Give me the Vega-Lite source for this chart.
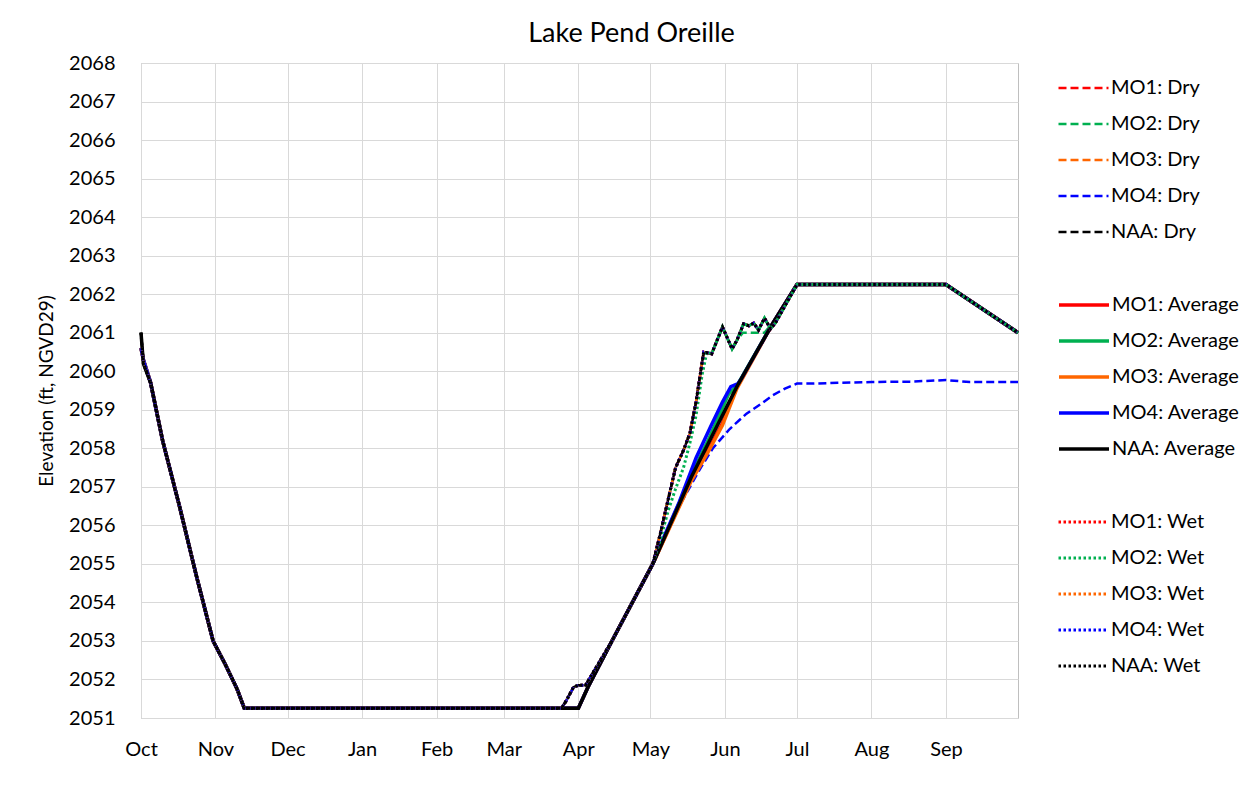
{
"$schema":"https://vega.github.io/schema/vega-lite/v6.json",
"width":877,"height":655,
"autosize":"none",
"padding":{"left":141,"top":63,"right":239,"bottom":70},
"background":"white",
"title":{"text":"Lake Pend Oreille","fontSize":27,"font":"Lato","fontWeight":"normal","color":"#000","anchor":"middle","frame":"group","dx":52,"offset":5},
"datasets":{
"dry":[
{"s":"MO1","d":0,"v":2060.6},{"s":"MO1","d":1,"v":2060.3},{"s":"MO1","d":4,"v":2059.7},{"s":"MO1","d":9,"v":2058.2},{"s":"MO1","d":16,"v":2056.5},{"s":"MO1","d":23,"v":2054.7},{"s":"MO1","d":30,"v":2053},{"s":"MO1","d":35,"v":2052.4},{"s":"MO1","d":40,"v":2051.75},{"s":"MO1","d":43,"v":2051.25},{"s":"MO1","d":175,"v":2051.25},{"s":"MO1","d":177,"v":2051.45},{"s":"MO1","d":180,"v":2051.8},{"s":"MO1","d":182,"v":2051.85},{"s":"MO1","d":185,"v":2051.85},{"s":"MO1","d":196,"v":2053},{"s":"MO1","d":213,"v":2055},{"s":"MO1","d":216,"v":2055.75},{"s":"MO1","d":219.5,"v":2056.7},{"s":"MO1","d":222.5,"v":2057.5},{"s":"MO1","d":225.8,"v":2057.95},{"s":"MO1","d":228.5,"v":2058.4},{"s":"MO1","d":231,"v":2059.2},{"s":"MO1","d":234.2,"v":2060.5},{"s":"MO1","d":237.5,"v":2060.45},{"s":"MO1","d":242,"v":2061.15},{"s":"MO1","d":246,"v":2060.58},{"s":"MO1","d":248,"v":2060.8},{"s":"MO1","d":250.8,"v":2061.23},{"s":"MO1","d":253,"v":2061.18},{"s":"MO1","d":255,"v":2061.25},{"s":"MO1","d":257,"v":2061.07},{"s":"MO1","d":259.5,"v":2061.38},{"s":"MO1","d":262,"v":2061.1},{"s":"MO1","d":264,"v":2061.25},{"s":"MO1","d":273,"v":2062.25},{"s":"MO1","d":335,"v":2062.25},{"s":"MO1","d":365,"v":2061},
{"s":"MO2","d":0,"v":2060.6},{"s":"MO2","d":1,"v":2060.3},{"s":"MO2","d":4,"v":2059.7},{"s":"MO2","d":9,"v":2058.2},{"s":"MO2","d":16,"v":2056.5},{"s":"MO2","d":23,"v":2054.7},{"s":"MO2","d":30,"v":2053},{"s":"MO2","d":35,"v":2052.4},{"s":"MO2","d":40,"v":2051.75},{"s":"MO2","d":43,"v":2051.25},{"s":"MO2","d":175,"v":2051.25},{"s":"MO2","d":177,"v":2051.45},{"s":"MO2","d":180,"v":2051.8},{"s":"MO2","d":182,"v":2051.85},{"s":"MO2","d":185,"v":2051.85},{"s":"MO2","d":196,"v":2053},{"s":"MO2","d":213,"v":2055},{"s":"MO2","d":216,"v":2055.75},{"s":"MO2","d":219.5,"v":2056.7},{"s":"MO2","d":222.5,"v":2057.5},{"s":"MO2","d":225.8,"v":2057.95},{"s":"MO2","d":228.5,"v":2058.4},{"s":"MO2","d":231,"v":2059.2},{"s":"MO2","d":234.2,"v":2060.5},{"s":"MO2","d":237.5,"v":2060.45},{"s":"MO2","d":242,"v":2061.15},{"s":"MO2","d":246,"v":2060.58},{"s":"MO2","d":248,"v":2060.8},{"s":"MO2","d":250.5,"v":2061},{"s":"MO2","d":259.5,"v":2061},{"s":"MO2","d":261.5,"v":2061.15},{"s":"MO2","d":264,"v":2061.25},{"s":"MO2","d":273,"v":2062.25},{"s":"MO2","d":335,"v":2062.25},{"s":"MO2","d":365,"v":2061},
{"s":"MO3","d":0,"v":2060.6},{"s":"MO3","d":1,"v":2060.3},{"s":"MO3","d":4,"v":2059.7},{"s":"MO3","d":9,"v":2058.2},{"s":"MO3","d":16,"v":2056.5},{"s":"MO3","d":23,"v":2054.7},{"s":"MO3","d":30,"v":2053},{"s":"MO3","d":35,"v":2052.4},{"s":"MO3","d":40,"v":2051.75},{"s":"MO3","d":43,"v":2051.25},{"s":"MO3","d":175,"v":2051.25},{"s":"MO3","d":177,"v":2051.45},{"s":"MO3","d":180,"v":2051.8},{"s":"MO3","d":182,"v":2051.85},{"s":"MO3","d":185,"v":2051.85},{"s":"MO3","d":196,"v":2053},{"s":"MO3","d":213,"v":2055},{"s":"MO3","d":216,"v":2055.75},{"s":"MO3","d":219.5,"v":2056.7},{"s":"MO3","d":222.5,"v":2057.5},{"s":"MO3","d":225.8,"v":2057.95},{"s":"MO3","d":228.5,"v":2058.4},{"s":"MO3","d":231,"v":2059.2},{"s":"MO3","d":234.2,"v":2060.5},{"s":"MO3","d":237.5,"v":2060.45},{"s":"MO3","d":242,"v":2061.15},{"s":"MO3","d":246,"v":2060.58},{"s":"MO3","d":248,"v":2060.8},{"s":"MO3","d":250.8,"v":2061.23},{"s":"MO3","d":253,"v":2061.18},{"s":"MO3","d":255,"v":2061.25},{"s":"MO3","d":257,"v":2061.07},{"s":"MO3","d":259.5,"v":2061.38},{"s":"MO3","d":262,"v":2061.1},{"s":"MO3","d":264,"v":2061.25},{"s":"MO3","d":273,"v":2062.25},{"s":"MO3","d":335,"v":2062.25},{"s":"MO3","d":365,"v":2061},
{"s":"MO4","d":0,"v":2060.6},{"s":"MO4","d":1,"v":2060.3},{"s":"MO4","d":4,"v":2059.7},{"s":"MO4","d":9,"v":2058.2},{"s":"MO4","d":16,"v":2056.5},{"s":"MO4","d":23,"v":2054.7},{"s":"MO4","d":30,"v":2053},{"s":"MO4","d":35,"v":2052.4},{"s":"MO4","d":40,"v":2051.75},{"s":"MO4","d":43,"v":2051.25},{"s":"MO4","d":175,"v":2051.25},{"s":"MO4","d":177,"v":2051.45},{"s":"MO4","d":180,"v":2051.8},{"s":"MO4","d":182,"v":2051.85},{"s":"MO4","d":185,"v":2051.85},{"s":"MO4","d":196,"v":2053},{"s":"MO4","d":213,"v":2055},{"s":"MO4","d":219,"v":2055.85},{"s":"MO4","d":224,"v":2056.5},{"s":"MO4","d":228.5,"v":2057},{"s":"MO4","d":233,"v":2057.5},{"s":"MO4","d":238,"v":2058},{"s":"MO4","d":245,"v":2058.5},{"s":"MO4","d":252,"v":2058.9},{"s":"MO4","d":258,"v":2059.15},{"s":"MO4","d":263,"v":2059.38},{"s":"MO4","d":268,"v":2059.55},{"s":"MO4","d":273,"v":2059.68},{"s":"MO4","d":280,"v":2059.68},{"s":"MO4","d":290,"v":2059.7},{"s":"MO4","d":304,"v":2059.72},{"s":"MO4","d":320,"v":2059.73},{"s":"MO4","d":335,"v":2059.77},{"s":"MO4","d":345,"v":2059.72},{"s":"MO4","d":365,"v":2059.72},
{"s":"NAA","d":0,"v":2061},{"s":"NAA","d":1,"v":2060.2},{"s":"NAA","d":4,"v":2059.7},{"s":"NAA","d":9,"v":2058.2},{"s":"NAA","d":16,"v":2056.5},{"s":"NAA","d":23,"v":2054.7},{"s":"NAA","d":30,"v":2053},{"s":"NAA","d":35,"v":2052.4},{"s":"NAA","d":40,"v":2051.75},{"s":"NAA","d":43,"v":2051.25},{"s":"NAA","d":175,"v":2051.25},{"s":"NAA","d":177,"v":2051.45},{"s":"NAA","d":180,"v":2051.8},{"s":"NAA","d":182,"v":2051.85},{"s":"NAA","d":185,"v":2051.85},{"s":"NAA","d":196,"v":2053},{"s":"NAA","d":213,"v":2055},{"s":"NAA","d":216,"v":2055.75},{"s":"NAA","d":219.5,"v":2056.7},{"s":"NAA","d":222.5,"v":2057.5},{"s":"NAA","d":225.8,"v":2057.95},{"s":"NAA","d":228.5,"v":2058.4},{"s":"NAA","d":231,"v":2059.2},{"s":"NAA","d":234.2,"v":2060.5},{"s":"NAA","d":237.5,"v":2060.45},{"s":"NAA","d":242,"v":2061.15},{"s":"NAA","d":246,"v":2060.58},{"s":"NAA","d":248,"v":2060.8},{"s":"NAA","d":250.8,"v":2061.23},{"s":"NAA","d":253,"v":2061.18},{"s":"NAA","d":255,"v":2061.25},{"s":"NAA","d":257,"v":2061.07},{"s":"NAA","d":259.5,"v":2061.38},{"s":"NAA","d":262,"v":2061.1},{"s":"NAA","d":264,"v":2061.25},{"s":"NAA","d":273,"v":2062.25},{"s":"NAA","d":335,"v":2062.25},{"s":"NAA","d":365,"v":2061}
],
"avg":[
{"s":"MO1","d":0,"v":2060.6},{"s":"MO1","d":1,"v":2060.3},{"s":"MO1","d":4,"v":2059.7},{"s":"MO1","d":9,"v":2058.2},{"s":"MO1","d":16,"v":2056.5},{"s":"MO1","d":23,"v":2054.7},{"s":"MO1","d":30,"v":2053},{"s":"MO1","d":35,"v":2052.4},{"s":"MO1","d":40,"v":2051.75},{"s":"MO1","d":43,"v":2051.25},{"s":"MO1","d":175,"v":2051.25},{"s":"MO1","d":182,"v":2051.25},{"s":"MO1","d":186,"v":2051.8},{"s":"MO1","d":196,"v":2053},{"s":"MO1","d":213,"v":2055},{"s":"MO1","d":229,"v":2057.2},{"s":"MO1","d":236,"v":2057.95},{"s":"MO1","d":242,"v":2058.65},{"s":"MO1","d":248,"v":2059.6},{"s":"MO1","d":263,"v":2061.25},{"s":"MO1","d":273,"v":2062.25},{"s":"MO1","d":335,"v":2062.25},{"s":"MO1","d":365,"v":2061},
{"s":"MO2","d":0,"v":2060.6},{"s":"MO2","d":1,"v":2060.3},{"s":"MO2","d":4,"v":2059.7},{"s":"MO2","d":9,"v":2058.2},{"s":"MO2","d":16,"v":2056.5},{"s":"MO2","d":23,"v":2054.7},{"s":"MO2","d":30,"v":2053},{"s":"MO2","d":35,"v":2052.4},{"s":"MO2","d":40,"v":2051.75},{"s":"MO2","d":43,"v":2051.25},{"s":"MO2","d":175,"v":2051.25},{"s":"MO2","d":182,"v":2051.25},{"s":"MO2","d":186,"v":2051.8},{"s":"MO2","d":196,"v":2053},{"s":"MO2","d":213,"v":2055},{"s":"MO2","d":229,"v":2057.3},{"s":"MO2","d":236,"v":2058.2},{"s":"MO2","d":244.5,"v":2059.4},{"s":"MO2","d":248,"v":2059.62},{"s":"MO2","d":263,"v":2061.25},{"s":"MO2","d":273,"v":2062.25},{"s":"MO2","d":335,"v":2062.25},{"s":"MO2","d":365,"v":2061},
{"s":"MO3","d":0,"v":2060.6},{"s":"MO3","d":1,"v":2060.3},{"s":"MO3","d":4,"v":2059.7},{"s":"MO3","d":9,"v":2058.2},{"s":"MO3","d":16,"v":2056.5},{"s":"MO3","d":23,"v":2054.7},{"s":"MO3","d":30,"v":2053},{"s":"MO3","d":35,"v":2052.4},{"s":"MO3","d":40,"v":2051.75},{"s":"MO3","d":43,"v":2051.25},{"s":"MO3","d":175,"v":2051.25},{"s":"MO3","d":182,"v":2051.25},{"s":"MO3","d":186,"v":2051.8},{"s":"MO3","d":196,"v":2053},{"s":"MO3","d":213,"v":2055},{"s":"MO3","d":229,"v":2057.15},{"s":"MO3","d":236,"v":2057.9},{"s":"MO3","d":242,"v":2058.6},{"s":"MO3","d":248,"v":2059.55},{"s":"MO3","d":252,"v":2060},{"s":"MO3","d":263,"v":2061.25},{"s":"MO3","d":273,"v":2062.25},{"s":"MO3","d":335,"v":2062.25},{"s":"MO3","d":365,"v":2061},
{"s":"MO4","d":0,"v":2060.6},{"s":"MO4","d":1,"v":2060.3},{"s":"MO4","d":4,"v":2059.7},{"s":"MO4","d":9,"v":2058.2},{"s":"MO4","d":16,"v":2056.5},{"s":"MO4","d":23,"v":2054.7},{"s":"MO4","d":30,"v":2053},{"s":"MO4","d":35,"v":2052.4},{"s":"MO4","d":40,"v":2051.75},{"s":"MO4","d":43,"v":2051.25},{"s":"MO4","d":175,"v":2051.25},{"s":"MO4","d":182,"v":2051.25},{"s":"MO4","d":186,"v":2051.8},{"s":"MO4","d":196,"v":2053},{"s":"MO4","d":213,"v":2055},{"s":"MO4","d":218,"v":2055.75},{"s":"MO4","d":224,"v":2056.6},{"s":"MO4","d":231,"v":2057.75},{"s":"MO4","d":237,"v":2058.55},{"s":"MO4","d":242,"v":2059.2},{"s":"MO4","d":245.5,"v":2059.6},{"s":"MO4","d":248.5,"v":2059.68},{"s":"MO4","d":250,"v":2059.82},{"s":"MO4","d":263,"v":2061.25},{"s":"MO4","d":273,"v":2062.25},{"s":"MO4","d":335,"v":2062.25},{"s":"MO4","d":365,"v":2061},
{"s":"NAA","d":0,"v":2061},{"s":"NAA","d":1,"v":2060.2},{"s":"NAA","d":4,"v":2059.7},{"s":"NAA","d":9,"v":2058.2},{"s":"NAA","d":16,"v":2056.5},{"s":"NAA","d":23,"v":2054.7},{"s":"NAA","d":30,"v":2053},{"s":"NAA","d":35,"v":2052.4},{"s":"NAA","d":40,"v":2051.75},{"s":"NAA","d":43,"v":2051.25},{"s":"NAA","d":175,"v":2051.25},{"s":"NAA","d":182,"v":2051.25},{"s":"NAA","d":186,"v":2051.8},{"s":"NAA","d":196,"v":2053},{"s":"NAA","d":213,"v":2055},{"s":"NAA","d":229,"v":2057.25},{"s":"NAA","d":248,"v":2059.6},{"s":"NAA","d":263,"v":2061.25},{"s":"NAA","d":273,"v":2062.25},{"s":"NAA","d":335,"v":2062.25},{"s":"NAA","d":365,"v":2061}
],
"wet":[
{"s":"MO1","d":0,"v":2060.6},{"s":"MO1","d":1,"v":2060.3},{"s":"MO1","d":4,"v":2059.7},{"s":"MO1","d":9,"v":2058.2},{"s":"MO1","d":16,"v":2056.5},{"s":"MO1","d":23,"v":2054.7},{"s":"MO1","d":30,"v":2053},{"s":"MO1","d":35,"v":2052.4},{"s":"MO1","d":40,"v":2051.75},{"s":"MO1","d":43,"v":2051.25},{"s":"MO1","d":175,"v":2051.25},{"s":"MO1","d":177,"v":2051.45},{"s":"MO1","d":180,"v":2051.8},{"s":"MO1","d":182,"v":2051.85},{"s":"MO1","d":185,"v":2051.85},{"s":"MO1","d":196,"v":2053},{"s":"MO1","d":213,"v":2055},{"s":"MO1","d":216,"v":2055.75},{"s":"MO1","d":219.5,"v":2056.7},{"s":"MO1","d":222.5,"v":2057.5},{"s":"MO1","d":225.8,"v":2057.95},{"s":"MO1","d":228.5,"v":2058.4},{"s":"MO1","d":231,"v":2059.2},{"s":"MO1","d":234.2,"v":2060.5},{"s":"MO1","d":237.5,"v":2060.45},{"s":"MO1","d":242,"v":2061.15},{"s":"MO1","d":246,"v":2060.58},{"s":"MO1","d":248,"v":2060.8},{"s":"MO1","d":250.8,"v":2061.23},{"s":"MO1","d":253,"v":2061.18},{"s":"MO1","d":255,"v":2061.25},{"s":"MO1","d":257,"v":2061.07},{"s":"MO1","d":259.5,"v":2061.38},{"s":"MO1","d":262,"v":2061.1},{"s":"MO1","d":264,"v":2061.25},{"s":"MO1","d":273,"v":2062.25},{"s":"MO1","d":335,"v":2062.25},{"s":"MO1","d":365,"v":2061},
{"s":"MO2","d":0,"v":2060.6},{"s":"MO2","d":1,"v":2060.3},{"s":"MO2","d":4,"v":2059.7},{"s":"MO2","d":9,"v":2058.2},{"s":"MO2","d":16,"v":2056.5},{"s":"MO2","d":23,"v":2054.7},{"s":"MO2","d":30,"v":2053},{"s":"MO2","d":35,"v":2052.4},{"s":"MO2","d":40,"v":2051.75},{"s":"MO2","d":43,"v":2051.25},{"s":"MO2","d":175,"v":2051.25},{"s":"MO2","d":177,"v":2051.45},{"s":"MO2","d":180,"v":2051.8},{"s":"MO2","d":182,"v":2051.85},{"s":"MO2","d":185,"v":2051.85},{"s":"MO2","d":196,"v":2053},{"s":"MO2","d":213,"v":2055},{"s":"MO2","d":216,"v":2055.6},{"s":"MO2","d":219.5,"v":2056.4},{"s":"MO2","d":222.5,"v":2056.95},{"s":"MO2","d":225.8,"v":2057.5},{"s":"MO2","d":228.5,"v":2058.15},{"s":"MO2","d":231,"v":2058.85},{"s":"MO2","d":233.5,"v":2059.9},{"s":"MO2","d":235.5,"v":2060.5},{"s":"MO2","d":237.5,"v":2060.45},{"s":"MO2","d":242,"v":2061.15},{"s":"MO2","d":246,"v":2060.58},{"s":"MO2","d":248,"v":2060.8},{"s":"MO2","d":250.8,"v":2061.23},{"s":"MO2","d":253,"v":2061.18},{"s":"MO2","d":255,"v":2061.25},{"s":"MO2","d":257,"v":2061.07},{"s":"MO2","d":259.5,"v":2061.38},{"s":"MO2","d":262,"v":2061.1},{"s":"MO2","d":264,"v":2061.25},{"s":"MO2","d":273,"v":2062.25},{"s":"MO2","d":335,"v":2062.25},{"s":"MO2","d":365,"v":2061},
{"s":"MO3","d":0,"v":2060.6},{"s":"MO3","d":1,"v":2060.3},{"s":"MO3","d":4,"v":2059.7},{"s":"MO3","d":9,"v":2058.2},{"s":"MO3","d":16,"v":2056.5},{"s":"MO3","d":23,"v":2054.7},{"s":"MO3","d":30,"v":2053},{"s":"MO3","d":35,"v":2052.4},{"s":"MO3","d":40,"v":2051.75},{"s":"MO3","d":43,"v":2051.25},{"s":"MO3","d":175,"v":2051.25},{"s":"MO3","d":177,"v":2051.45},{"s":"MO3","d":180,"v":2051.8},{"s":"MO3","d":182,"v":2051.85},{"s":"MO3","d":185,"v":2051.85},{"s":"MO3","d":196,"v":2053},{"s":"MO3","d":213,"v":2055},{"s":"MO3","d":216,"v":2055.75},{"s":"MO3","d":219.5,"v":2056.7},{"s":"MO3","d":222.5,"v":2057.5},{"s":"MO3","d":225.8,"v":2057.95},{"s":"MO3","d":228.5,"v":2058.4},{"s":"MO3","d":231,"v":2059.2},{"s":"MO3","d":234.2,"v":2060.5},{"s":"MO3","d":237.5,"v":2060.45},{"s":"MO3","d":242,"v":2061.15},{"s":"MO3","d":246,"v":2060.58},{"s":"MO3","d":248,"v":2060.8},{"s":"MO3","d":250.8,"v":2061.23},{"s":"MO3","d":253,"v":2061.18},{"s":"MO3","d":255,"v":2061.25},{"s":"MO3","d":257,"v":2061.07},{"s":"MO3","d":259.5,"v":2061.38},{"s":"MO3","d":262,"v":2061.1},{"s":"MO3","d":264,"v":2061.25},{"s":"MO3","d":273,"v":2062.25},{"s":"MO3","d":335,"v":2062.25},{"s":"MO3","d":365,"v":2061},
{"s":"MO4","d":0,"v":2060.6},{"s":"MO4","d":1,"v":2060.3},{"s":"MO4","d":4,"v":2059.7},{"s":"MO4","d":9,"v":2058.2},{"s":"MO4","d":16,"v":2056.5},{"s":"MO4","d":23,"v":2054.7},{"s":"MO4","d":30,"v":2053},{"s":"MO4","d":35,"v":2052.4},{"s":"MO4","d":40,"v":2051.75},{"s":"MO4","d":43,"v":2051.25},{"s":"MO4","d":175,"v":2051.25},{"s":"MO4","d":177,"v":2051.45},{"s":"MO4","d":180,"v":2051.8},{"s":"MO4","d":182,"v":2051.85},{"s":"MO4","d":185,"v":2051.85},{"s":"MO4","d":196,"v":2053},{"s":"MO4","d":213,"v":2055},{"s":"MO4","d":216,"v":2055.75},{"s":"MO4","d":219.5,"v":2056.7},{"s":"MO4","d":222.5,"v":2057.5},{"s":"MO4","d":225.8,"v":2057.95},{"s":"MO4","d":228.5,"v":2058.4},{"s":"MO4","d":231,"v":2059.2},{"s":"MO4","d":234.2,"v":2060.5},{"s":"MO4","d":237.5,"v":2060.45},{"s":"MO4","d":242,"v":2061.15},{"s":"MO4","d":246,"v":2060.58},{"s":"MO4","d":248,"v":2060.8},{"s":"MO4","d":250.8,"v":2061.23},{"s":"MO4","d":253,"v":2061.18},{"s":"MO4","d":255,"v":2061.25},{"s":"MO4","d":257,"v":2061.07},{"s":"MO4","d":259.5,"v":2061.38},{"s":"MO4","d":262,"v":2061.1},{"s":"MO4","d":264,"v":2061.25},{"s":"MO4","d":273,"v":2062.25},{"s":"MO4","d":335,"v":2062.25},{"s":"MO4","d":365,"v":2061},
{"s":"NAA","d":0,"v":2061},{"s":"NAA","d":1,"v":2060.2},{"s":"NAA","d":4,"v":2059.7},{"s":"NAA","d":9,"v":2058.2},{"s":"NAA","d":16,"v":2056.5},{"s":"NAA","d":23,"v":2054.7},{"s":"NAA","d":30,"v":2053},{"s":"NAA","d":35,"v":2052.4},{"s":"NAA","d":40,"v":2051.75},{"s":"NAA","d":43,"v":2051.25},{"s":"NAA","d":175,"v":2051.25},{"s":"NAA","d":177,"v":2051.45},{"s":"NAA","d":180,"v":2051.8},{"s":"NAA","d":182,"v":2051.85},{"s":"NAA","d":185,"v":2051.85},{"s":"NAA","d":196,"v":2053},{"s":"NAA","d":213,"v":2055},{"s":"NAA","d":216,"v":2055.75},{"s":"NAA","d":219.5,"v":2056.7},{"s":"NAA","d":222.5,"v":2057.5},{"s":"NAA","d":225.8,"v":2057.95},{"s":"NAA","d":228.5,"v":2058.4},{"s":"NAA","d":231,"v":2059.2},{"s":"NAA","d":234.2,"v":2060.5},{"s":"NAA","d":237.5,"v":2060.45},{"s":"NAA","d":242,"v":2061.15},{"s":"NAA","d":246,"v":2060.58},{"s":"NAA","d":248,"v":2060.8},{"s":"NAA","d":250.8,"v":2061.23},{"s":"NAA","d":253,"v":2061.18},{"s":"NAA","d":255,"v":2061.25},{"s":"NAA","d":257,"v":2061.07},{"s":"NAA","d":259.5,"v":2061.38},{"s":"NAA","d":262,"v":2061.1},{"s":"NAA","d":264,"v":2061.25},{"s":"NAA","d":273,"v":2062.25},{"s":"NAA","d":335,"v":2062.25},{"s":"NAA","d":365,"v":2061}
]
},
"encoding":{
"x":{"field":"d","type":"quantitative","scale":{"domain":[0,365],"nice":false,"zero":false},
"axis":{"values":[0,31,61,92,123,151,182,212,243,273,304,335],"labelExpr":"['Oct','Nov','Dec','Jan','Feb','Mar','Apr','May','Jun','Jul','Aug','Sep'][indexof([0,31,61,92,123,151,182,212,243,273,304,335], datum.value)]","title":null,"ticks":false,"domain":false,"labelFlush":false,"labelOverlap":false,"labelPadding":21}},
"y":{"field":"v","type":"quantitative","scale":{"domain":[2051,2068],"nice":false,"zero":false},
"axis":{"values":[2051,2052,2053,2054,2055,2056,2057,2058,2059,2060,2061,2062,2063,2064,2065,2066,2067,2068],"format":"d","title":"Elevation (ft, NGVD29)","ticks":false,"domain":false,"labelPadding":26,"titlePadding":12,"labelOverlap":false}}
},
"layer":[
{"data":{"name":"dry"},"mark":{"type":"line","strokeWidth":2.5,"strokeDash":[8,4]},
"encoding":{"color":{"field":"s","type":"nominal","scale":{"domain":["MO1","MO2","MO3","MO4","NAA"],"range":["#FF0000","#00B050","#FF6600","#0000FF","#000000"]},
"legend":{"title":null,"labelExpr":"datum.label + ': Dry'","symbolType":"stroke","symbolSize":2500,"symbolStrokeWidth":2.5,"symbolDash":[8,4],"clipHeight":36,"rowPadding":0,"labelOffset":1,"offset":25,"padding":7}}}},
{"data":{"name":"avg"},"mark":{"type":"line","strokeWidth":3.5},
"encoding":{"color":{"field":"s","type":"nominal","scale":{"domain":["MO1","MO2","MO3","MO4","NAA"],"range":["#FF0000","#00B050","#FF6600","#0000FF","#000000"]},
"legend":{"title":" ","titleFontSize":11,"titlePadding":4,"labelExpr":"datum.label + ': Average'","symbolType":"stroke","symbolSize":2500,"symbolStrokeWidth":3.5,"clipHeight":36,"rowPadding":0,"labelOffset":1,"offset":25,"padding":7}}}},
{"data":{"name":"wet"},"mark":{"type":"line","strokeWidth":3,"strokeDash":[2.5,2.5]},
"encoding":{"color":{"field":"s","type":"nominal","scale":{"domain":["MO1","MO2","MO3","MO4","NAA"],"range":["#FF0000","#00B050","#FF6600","#0000FF","#000000"]},
"legend":{"title":" ","titleFontSize":11,"titlePadding":4,"labelExpr":"datum.label + ': Wet'","symbolType":"stroke","symbolSize":2500,"symbolStrokeWidth":3,"symbolDash":[2.5,2.5],"clipHeight":36,"rowPadding":0,"labelOffset":1,"offset":25,"padding":7}}}}
],
"resolve":{"scale":{"color":"independent"}},
"config":{
"font":"Lato",
"view":{"stroke":"#bfbfbf","strokeWidth":1},
"axis":{"labelFont":"Lato","labelFontSize":20,"labelColor":"#000","titleFont":"Lato","titleFontSize":19,"titleFontWeight":"normal","titleColor":"#000","gridColor":"#d9d9d9","gridWidth":1},
"legend":{"labelFont":"Lato","labelFontSize":20,"labelColor":"#000","labelLimit":200}
}
}
